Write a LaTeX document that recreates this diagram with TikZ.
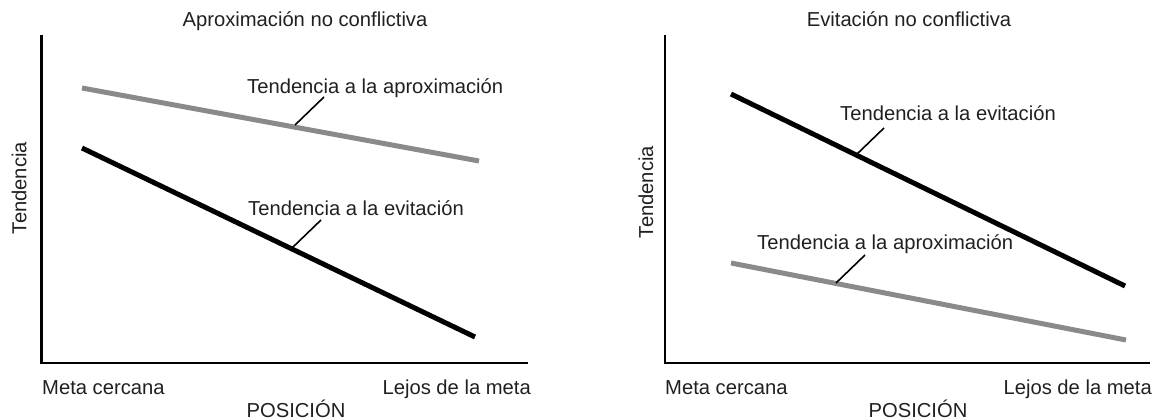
\documentclass[tikz,border=0pt]{standalone}
\usepackage{fontspec}
\setmainfont{Liberation Sans}
\definecolor{txt}{HTML}{231F20}
\definecolor{grayline}{HTML}{8A8A8A}
\begin{document}
\begin{tikzpicture}[x=1pt,y=-1pt,
  lbl/.style={inner sep=0pt,text=txt,font=\fontsize{20.2}{24}\selectfont},
  axis/.style={line width=2.2pt,black},
  avoid/.style={line width=5pt,black},
  appr/.style={line width=5pt,grayline},
  leader/.style={line width=1.6pt,black}]
\useasboundingbox (0,0) rectangle (1157,420);
% ---------- left panel ----------
\coordinate (L0) at (41.5,363);
\coordinate (Ltop) at (41.5,35);
\coordinate (Lend) at (528,363);
\draw[axis] (Ltop) -- (L0) -- (Lend);
\coordinate (La1) at (82,88);
\coordinate (La2) at (479,161);
\coordinate (Le1) at (82,148);
\coordinate (Le2) at (475,337);
\draw[appr] (La1) -- (La2);
\draw[avoid] (Le1) -- (Le2);
\node[lbl,anchor=base] (Ltitle) at (305,27) {Aproximación no conflictiva};
\node[lbl,anchor=base west] (Lapr) at (247,94) {Tendencia a la aproximación};
\node[lbl,anchor=base west] (Levi) at (248,215) {Tendencia a la evitación};
\coordinate (Lap1) at (295,125);
\coordinate (Lap2) at (324,97);
\coordinate (Lev1) at (292,248);
\coordinate (Lev2) at (321,220);
\draw[leader] (Lap1) -- (Lap2);
\draw[leader] (Lev1) -- (Lev2);
\node[lbl,anchor=base west] (Lnear) at (42,394) {Meta cercana};
\node[lbl,anchor=base east] (Lfar) at (531,394) {Lejos de la meta};
\node[lbl,anchor=base] (Lpos) at (296,417) {POSICIÓN};
\node[lbl,anchor=base,rotate=90] (Ltend) at (26.5,188) {Tendencia};
% ---------- right panel ----------
\coordinate (R0) at (665,363);
\coordinate (Rtop) at (665,35);
\coordinate (Rend) at (1150,363);
\draw[axis] (Rtop) -- (R0) -- (Rend);
\coordinate (Re1) at (731,94);
\coordinate (Re2) at (1125,286);
\coordinate (Ra1) at (731,263);
\coordinate (Ra2) at (1126,340);
\draw[avoid] (Re1) -- (Re2);
\draw[appr] (Ra1) -- (Ra2);
\node[lbl,anchor=base] (Rtitle) at (909,27) {Evitación no conflictiva};
\node[lbl,anchor=base west] (Revi) at (840,121) {Tendencia a la evitación};
\node[lbl,anchor=base west] (Rapr) at (757,249) {Tendencia a la aproximación};
\coordinate (Rev1) at (856,155) ;
\coordinate (Rev2) at (884,128);
\coordinate (Rap1) at (836,283);
\coordinate (Rap2) at (865,255);
\draw[leader] (Rev1) -- (Rev2);
\draw[leader] (Rap1) -- (Rap2);
\node[lbl,anchor=base west] (Rnear) at (665,394) {Meta cercana};
\node[lbl,anchor=base east] (Rfar) at (1152,394) {Lejos de la meta};
\node[lbl,anchor=base] (Rpos) at (918,417) {POSICIÓN};
\node[lbl,anchor=base,rotate=90] (Rtend) at (653,192) {Tendencia};
\end{tikzpicture}
\end{document}
